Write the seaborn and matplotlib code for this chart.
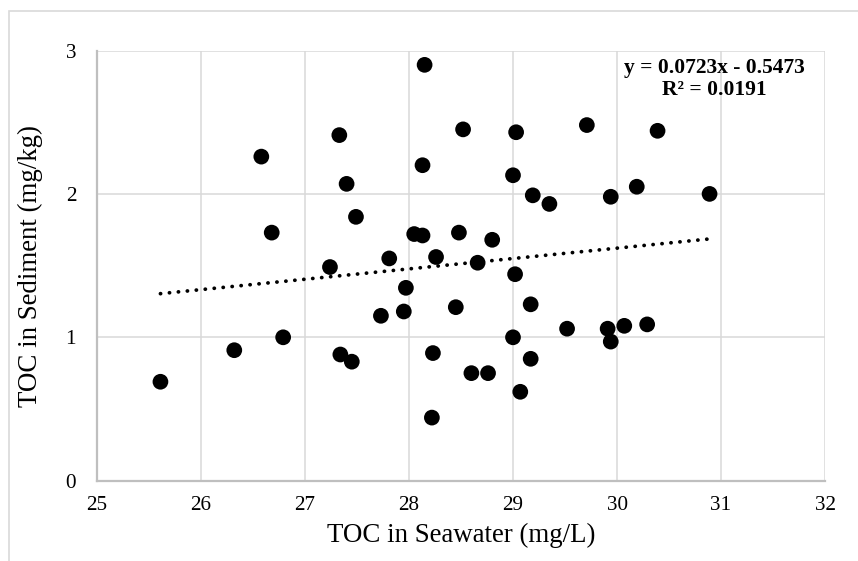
import matplotlib
matplotlib.use("Agg")
import matplotlib.pyplot as plt
import seaborn as sns
import numpy as np
import pandas as pd
from matplotlib.patches import Rectangle

# Data
toc_seawater = [28.15, 27.33, 26.58, 28.52, 28.13, 27.40, 27.49, 26.68, 28.05, 28.13,
                28.48, 27.81, 28.26, 27.24, 28.66, 29.03, 29.71, 30.39, 29.00, 29.19,
                29.35, 29.94, 30.19, 30.89, 28.80, 29.02, 25.61, 26.32, 26.79, 27.34,
                27.45, 27.73, 27.95, 27.97, 28.45, 28.23, 28.60, 28.22, 29.17, 29.52,
                29.91, 29.94, 30.07, 30.29, 29.00, 29.17, 28.76, 29.07]
toc_sediment = [2.90, 2.41, 2.26, 2.45, 2.20, 2.07, 1.84, 1.73, 1.72, 1.71,
                1.73, 1.55, 1.56, 1.49, 1.52, 2.43, 2.48, 2.44, 2.13, 1.99,
                1.93, 1.98, 2.05, 2.00, 1.68, 1.44, 0.69, 0.91, 1.00, 0.88,
                0.83, 1.15, 1.18, 1.345, 1.21, 0.89, 0.75, 0.44, 1.23, 1.06,
                1.06, 0.97, 1.08, 1.09, 1.00, 0.85, 0.75, 0.62]
slope = 0.0723
intercept = -0.5473
r_squared = 0.0191
x_ticks = [25, 26, 27, 28, 29, 30, 31, 32]
y_ticks = [0, 1, 2, 3]

sns.set_theme(style="white")
plt.rcParams['font.family'] = ['Liberation Serif', 'DejaVu Serif']

df = pd.DataFrame({"sea": toc_seawater, "sed": toc_sediment})

fig = plt.figure(figsize=(8.58, 5.61), dpi=100)
fig.patch.set_facecolor("white")
# outer chart frame (only left & top visible in reference)
fig.patches.append(Rectangle((9 / 858, -0.1), 1.2, (561 - 10.5) / 561 + 0.1,
                             transform=fig.transFigure, fill=False,
                             edgecolor="#d9d9d9", linewidth=1.2))

ax = fig.add_axes([97 / 858, (561 - 480.7) / 561, (825 - 97) / 858, (480.7 - 50.5) / 561])

ax.set_xlim(x_ticks[0], x_ticks[-1])
ax.set_ylim(y_ticks[0], y_ticks[-1])
ax.set_xticks(x_ticks)
ax.set_yticks(y_ticks)
ax.grid(True, color="#d9d9d9", linewidth=1.1, zorder=0)
ax.set_axisbelow(True)

# trendline
xfit = np.array([min(toc_seawater), max(toc_seawater)])
sns.lineplot(x=xfit, y=slope * xfit + intercept, ax=ax, color="black",
             linewidth=2.7, linestyle=(0, (0.05, 2.35)), zorder=2)
ax.lines[-1].set_dash_capstyle("round")

sns.scatterplot(data=df, x="sea", y="sed", ax=ax, s=128, color="black",
                edgecolor="none", linewidth=0, zorder=3)

for side in ["top", "right"]:
    ax.spines[side].set_visible(False)
for side in ["left", "bottom"]:
    ax.spines[side].set_color("#bfbfbf")
    ax.spines[side].set_linewidth(1.6)

ax.tick_params(axis="both", length=0, labelsize=15.2, colors="black")
ax.tick_params(axis="x", pad=11)
ax.tick_params(axis="y", pad=15)

ax.set_xlabel("TOC in Seawater (mg/L)", fontsize=19.4, color="black")
ax.set_ylabel("TOC in Sediment (mg/kg)", fontsize=19.4, color="black")
ax.xaxis.set_label_coords(0.5, (480.7 - 535) / (480.7 - 50.5))
ax.xaxis.label.set_va("center")
ax.yaxis.set_label_coords((30 - 97) / (825 - 97), 0.5)
ax.yaxis.label.set_va("center")

ax.text(0.8475, 0.933, f"y = {slope}x - {abs(intercept)}\nR² = {r_squared}",
        transform=ax.transAxes, ha="center", va="center", fontsize=15.5,
        fontweight="bold", linespacing=1.15, color="black")

fig.savefig("out.png", dpi=100, facecolor="white")
